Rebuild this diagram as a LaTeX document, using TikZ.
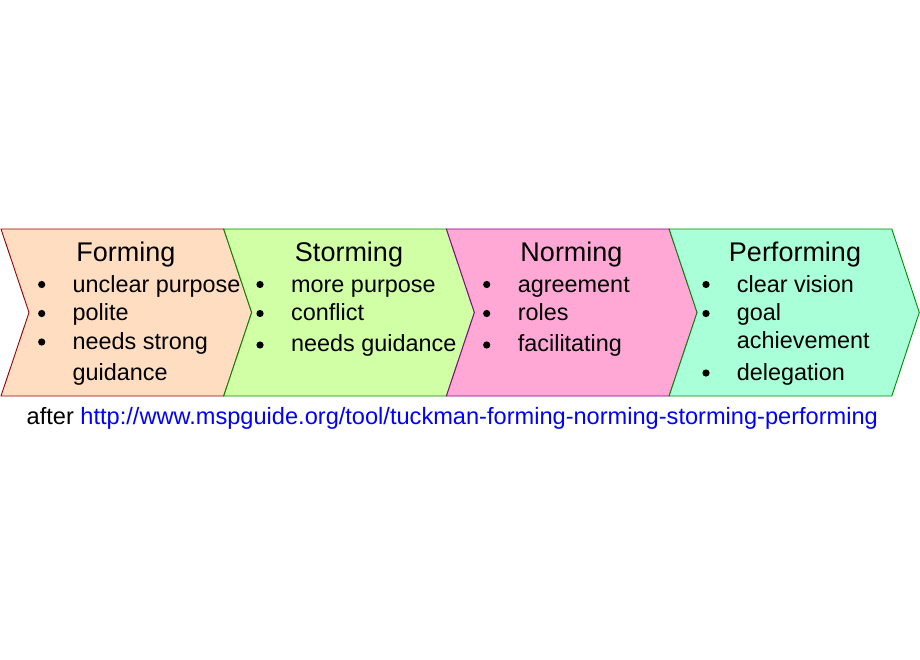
\documentclass[tikz,border=0pt]{standalone}
\usepackage{fontspec}
\setmainfont{Liberation Sans}
\definecolor{formfill}{RGB}{255,221,193}
\definecolor{stormfill}{RGB}{208,255,165}
\definecolor{normfill}{RGB}{255,168,214}
\definecolor{perffill}{RGB}{168,255,216}
\definecolor{formline}{RGB}{150,0,0}
\definecolor{stormline}{RGB}{0,140,0}
\definecolor{normline}{RGB}{140,0,140}
\definecolor{perfline}{RGB}{0,140,0}

\begin{document}
\begin{tikzpicture}[x=1pt,y=-1pt,
    chevron/.style={line width=0.9pt, line join=miter},
    title/.style={font=\fontsize{27}{32}\selectfont, anchor=base, inner sep=0pt},
    item/.style={font=\fontsize{23.4}{28}\selectfont, anchor=base west, inner sep=0pt}]
    \useasboundingbox (0,0) rectangle (920,660);
    % the four chevrons
    \draw[chevron,formline,fill=formfill] (1,229) -- (223.7,229) -- (251.7,312.5) -- (223.7,396) -- (1,396) -- (29,312.5) -- cycle;
    \draw[chevron,stormline,fill=stormfill] (223.7,229) -- (446.4,229) -- (474.4,312.5) -- (446.4,396) -- (223.7,396) -- (251.7,312.5) -- cycle;
    \draw[chevron,normline,fill=normfill] (446.4,229) -- (669.1,229) -- (697.1,312.5) -- (669.1,396) -- (446.4,396) -- (474.4,312.5) -- cycle;
    \draw[chevron,perfline,fill=perffill] (669.1,229) -- (891.8,229) -- (919.3,312.5) -- (891.8,396) -- (669.1,396) -- (697.1,312.5) -- cycle;
    % titles
    \node[title] (forming) at (126,261.5) {Forming};
    \node[title] (storming) at (349,261.5) {Storming};
    \node[title] (norming) at (571.5,261.5) {Norming};
    \node[title] (performing) at (795,261.5) {Performing};
    % Forming
    \fill (41.7,284.5) circle (3.6);
    \fill (41.7,313.5) circle (3.6);
    \fill (41.7,342) circle (3.6);
    \node[item] (f1) at (72.5,292) {unclear purpose};
    \node[item] (f2) at (72.5,320.5) {polite};
    \node[item] (f3) at (72.5,349.5) {needs strong};
    \node[item] (f4) at (72.5,380.5) {guidance};
    % Storming
    \fill (260,284.5) circle (3.6);
    \fill (260,313.5) circle (3.6);
    \fill (260,345) circle (3.6);
    \node[item] (s1) at (291,292) {more purpose};
    \node[item] (s2) at (291,320.5) {conflict};
    \node[item] (s3) at (291,351.5) {needs guidance};
    % Norming
    \fill (486.7,284.5) circle (3.6);
    \fill (486.7,313.5) circle (3.6);
    \fill (486.7,345) circle (3.6);
    \node[item] (n1) at (517.7,292) {agreement};
    \node[item] (n2) at (517.7,320.5) {roles};
    \node[item] (n3) at (517.7,351.5) {facilitating};
    % Performing
    \fill (706,284.5) circle (3.6);
    \fill (706,313.5) circle (3.6);
    \fill (706,373) circle (3.6);
    \node[item] (p1) at (736.7,292) {clear vision};
    \node[item] (p2) at (736.7,320.5) {goal};
    \node[item] (p3) at (736.7,348.5) {achievement};
    \node[item] (p4) at (736.7,380) {delegation};
    % source
    \node[item,font=\fontsize{23.6}{28}\selectfont] (source) at (26.5,424.5) {after \textcolor{blue}{http://www.mspguide.org/tool/tuckman-forming-norming-storming-performing}};
\end{tikzpicture}
\end{document}
